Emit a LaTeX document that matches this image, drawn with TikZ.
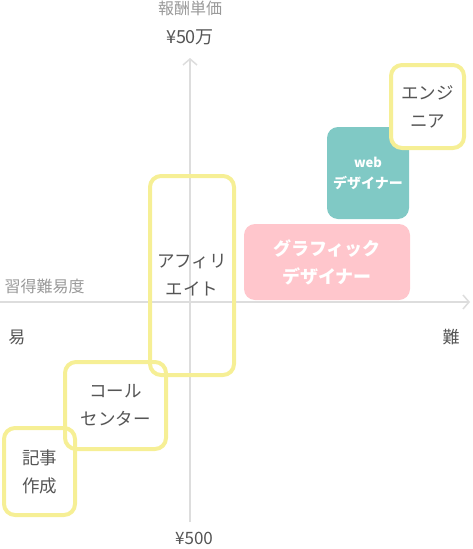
\documentclass[tikz,border=0pt]{standalone}
\usepackage{fontspec}
\usepackage{xcolor}
\usetikzlibrary{arrows.meta}
\setmainfont{Noto Sans CJK JP}
\definecolor{MapAxis}{HTML}{DDDDDD}
\definecolor{MapText}{HTML}{555555}
\definecolor{MapGray}{HTML}{999999}
\definecolor{MapYellow}{HTML}{F6EF95}
\definecolor{MapTeal}{HTML}{80C9C5}
\definecolor{MapPink}{HTML}{FFC6CC}
\tikzset{
  jobbox/.style={draw=MapYellow,line width=4pt,rounded corners=11pt,inner sep=0pt,
    align=center,text=MapText,font=\fontsize{17.5}{28}\selectfont},
  fillbox/.style={rounded corners=11pt,inner sep=0pt,align=center,text=white},
  axisline/.style={MapAxis,line width=2pt,-{Straight Barb[length=6pt,width=14pt,line width=1.5pt]}},
}

\begin{document}
\begin{tikzpicture}[x=1pt,y=-1pt]
\path[use as bounding box] (0,0) rectangle (472,549);
\coordinate (vbot) at (190,522);
\coordinate (vtop) at (190,58);
\coordinate (hleft) at (0,302);
\coordinate (hright) at (470,302);
\draw[axisline] (vbot) -- (vtop);
\draw[axisline] (hleft) -- (hright);
\node[text=MapGray,font=\fontsize{16}{16}\selectfont] (rewardlbl) at (190,8.5) {報酬単価};
\node[text=MapText,font=\fontsize{18}{18}\selectfont] (rewardhi) at (190,37.5) {¥50万};
\node[text=MapText,font=\fontsize{17}{17}\selectfont] (rewardlo) at (194,538) {¥500};
\node[anchor=west,text=MapGray,font=\fontsize{16}{16}\selectfont] (difflbl) at (1,286) {習得難易度};
\node[text=MapText,font=\fontsize{17}{17}\selectfont] (easy) at (17,337) {易};
\node[text=MapText,font=\fontsize{17}{17}\selectfont] (hard) at (451,337) {難};
\node[fillbox,fill=MapTeal,minimum width=82pt,minimum height=92pt,
  font=\bfseries\fontsize{14}{21}\selectfont] (webdes) at (368,173) {{\fontsize{13}{21}\selectfont web}\\デザイナー};
\node[fillbox,fill=MapPink,minimum width=166pt,minimum height=76pt,
  font=\bfseries\fontsize{18}{28}\selectfont] (graphdes) at (327,262) {グラフィック\\デザイナー};
\node[jobbox,fill=white,minimum width=73pt,minimum height=83pt] (engineer) at (427.5,106.5) {エンジ\\ニア};
\node[jobbox,minimum width=84pt,minimum height=199pt] (affiliate) at (192,275.5) {アフィリ\\エイト};
\node[jobbox,minimum width=101pt,minimum height=87pt] (callcenter) at (115.5,405.5) {コール\\センター};
\node[jobbox,minimum width=71pt,minimum height=87pt] (article) at (39.5,471.5) {記事\\作成};
\end{tikzpicture}
\end{document}
